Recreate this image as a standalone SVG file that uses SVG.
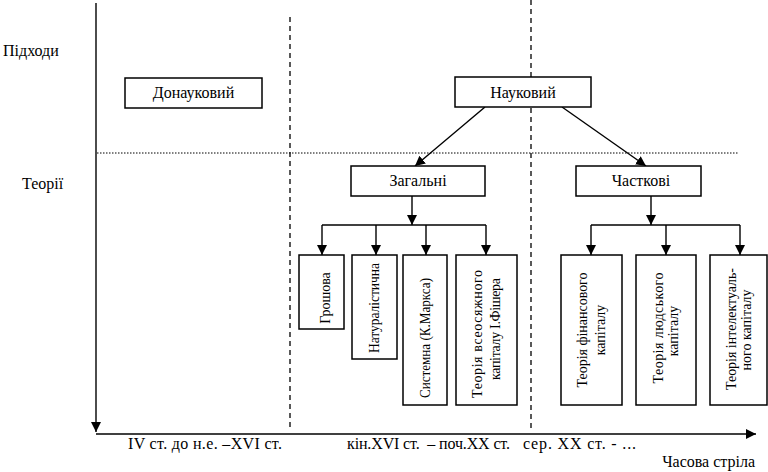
<svg xmlns="http://www.w3.org/2000/svg" width="768" height="472" viewBox="0 0 768 472">
<defs>
<marker id="ah" markerUnits="userSpaceOnUse" markerWidth="11" markerHeight="10" refX="10" refY="5" orient="auto">
<path d="M0,0 L10,5 L0,10 z" fill="#000"/>
</marker>
<style>
text{font-family:"Liberation Serif","Times New Roman",serif;fill:#000}
.lbl{font-size:16px}
.big{font-size:16px;text-anchor:middle}
.ax{font-size:16px}
.v{font-size:14px;text-anchor:middle}
.box{fill:#fff;stroke:#000;stroke-width:1.5}
.c{stroke:#000;stroke-width:1.4;fill:none}
.ca{stroke:#000;stroke-width:1.4;fill:none;marker-end:url(#ah)}
.dash{stroke:#000;stroke-width:1.3;stroke-dasharray:5,4;fill:none}
.dot{stroke:#000;stroke-width:1;stroke-dasharray:1.5,1.5;fill:none}
</style>
</defs>
<rect width="768" height="472" fill="#fff"/>

<g id="grid">
<line class="dash" x1="290" y1="17" x2="290" y2="430"/>
<line class="dash" x1="531" y1="0" x2="531" y2="430"/>
<line class="dot" x1="97" y1="153" x2="738" y2="153"/>
</g>

<g id="axes">
<line class="ca" x1="96" y1="3" x2="96" y2="432"/>
<line class="ca" x1="96" y1="434" x2="756" y2="434"/>
</g>

<g id="labels">
<text class="lbl" x="3" y="56">Підходи</text>
<text class="lbl" x="22" y="189">Теорії</text>
<text class="ax" x="128" y="449" textLength="154" lengthAdjust="spacing">IV ст. до н.е. –XVI ст.</text>
<text class="ax" x="347" y="449" xml:space="preserve" textLength="163" lengthAdjust="spacing">кін.XVI ст.  – поч.XX ст.</text>
<text class="ax" x="523" y="449" textLength="113" lengthAdjust="spacing">сер. XX ст. - ...</text>
<text class="ax" x="755" y="467" text-anchor="end">Часова стріла</text>
</g>

<g id="connectors">
<line class="ca" x1="485" y1="107" x2="415" y2="166"/>
<line class="ca" x1="562" y1="107" x2="646" y2="166"/>
<line class="ca" x1="412" y1="196" x2="412" y2="225"/>
<line class="c" x1="322" y1="225" x2="486" y2="225"/>
<line class="ca" x1="322" y1="225" x2="322" y2="255"/>
<line class="ca" x1="376" y1="225" x2="376" y2="255"/>
<line class="ca" x1="426" y1="225" x2="426" y2="255"/>
<line class="ca" x1="486" y1="225" x2="486" y2="255"/>
<line class="ca" x1="651" y1="196" x2="651" y2="225"/>
<line class="c" x1="591" y1="225" x2="740" y2="225"/>
<line class="ca" x1="591" y1="225" x2="591" y2="255"/>
<line class="ca" x1="666" y1="225" x2="666" y2="255"/>
<line class="ca" x1="740" y1="225" x2="740" y2="255"/>
</g>

<g id="donaukovyi">
<rect class="box" x="125" y="78" width="137" height="30"/>
<text class="big" x="193.5" y="98">Донауковий</text>
</g>

<g id="naukovyi">
<rect class="box" x="455" y="77" width="136" height="30"/>
<text class="big" x="523" y="98">Науковий</text>
</g>

<g id="zahalni">
<rect class="box" x="351" y="166" width="134" height="30"/>
<text class="big" x="418" y="186">Загальні</text>
</g>

<g id="chastkovi">
<rect class="box" x="576" y="166" width="125" height="30"/>
<text class="big" x="641" y="186">Часткові</text>
</g>

<g id="hroshova">
<rect class="box" x="299" y="255" width="45" height="74"/>
<text class="v" transform="translate(330,298) rotate(-90)">Грошова</text>
</g>

<g id="naturalistychna">
<rect class="box" x="352" y="255" width="45" height="104"/>
<text class="v" transform="translate(379,308) rotate(-90)" textLength="90" lengthAdjust="spacingAndGlyphs">Натуралістична</text>
</g>

<g id="systemna">
<rect class="box" x="403" y="255" width="44" height="150"/>
<text class="v" transform="translate(430,338) rotate(-90)" textLength="120" lengthAdjust="spacingAndGlyphs">Системна (К.Маркса)</text>
</g>

<g id="fisher">
<rect class="box" x="456" y="255" width="61" height="150"/>
<text class="v" transform="translate(482,334) rotate(-90)" textLength="128" lengthAdjust="spacing">Теорія всеосяжного</text>
<text class="v" transform="translate(500,329) rotate(-90)" textLength="102" lengthAdjust="spacing">капіталу І.Фішера</text>
</g>

<g id="finansovyi">
<rect class="box" x="561" y="255" width="61" height="150"/>
<text class="v" transform="translate(587,330) rotate(-90)" textLength="115" lengthAdjust="spacing">Теорія фінансового</text>
<text class="v" transform="translate(605,330) rotate(-90)">капіталу</text>
</g>

<g id="liudskyi">
<rect class="box" x="636" y="255" width="60" height="150"/>
<text class="v" transform="translate(663,328) rotate(-90)" textLength="111" lengthAdjust="spacing">Теорія людського</text>
<text class="v" transform="translate(678,331) rotate(-90)">капіталу</text>
</g>

<g id="intelektualnyi">
<rect class="box" x="710" y="255" width="57" height="150"/>
<text class="v" transform="translate(736,329) rotate(-90)" textLength="122" lengthAdjust="spacingAndGlyphs">Теорія інтелектуаль-</text>
<text class="v" transform="translate(751,330) rotate(-90)">ного капіталу</text>
</g>
</svg>
